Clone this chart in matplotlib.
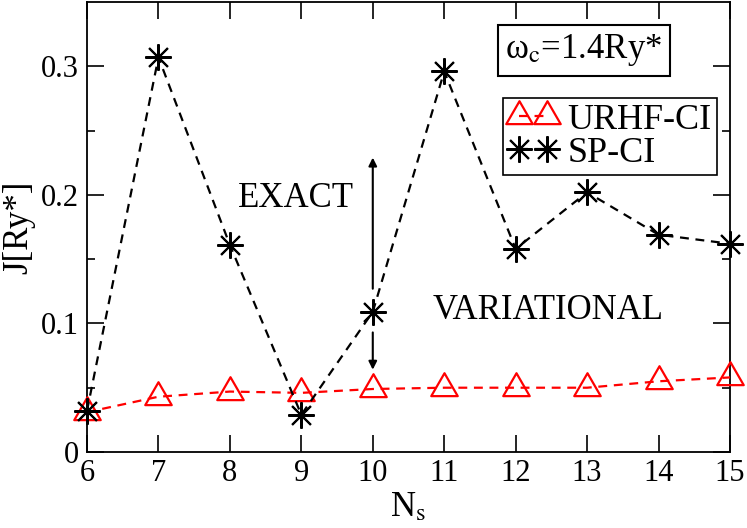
import matplotlib
matplotlib.use("Agg")
import matplotlib.pyplot as plt
from matplotlib.path import Path
import numpy as np

# Data
ns = [6, 7, 8, 9, 10, 11, 12, 13, 14, 15]
urhf_ci = [0.031, 0.043, 0.047, 0.046, 0.049, 0.050, 0.050, 0.050, 0.055, 0.058]
sp_ci = [0.032, 0.307, 0.161, 0.029, 0.109, 0.296, 0.158, 0.202, 0.169, 0.162]
xticks = [6, 7, 8, 9, 10, 11, 12, 13, 14, 15]
yticks = [0, 0.1, 0.2, 0.3]
ytick_labels = ["0", "0.1", "0.2", "0.3"]

plt.rcParams['font.family'] = ['Liberation Serif', 'DejaVu Serif']
plt.rcParams['mathtext.fontset'] = 'stix'

fig = plt.figure(figsize=(7.47, 5.28), dpi=100)
ax = fig.add_axes([87/747, 76/528, 643/747, 450/528])

tri = Path([(-1, -0.577), (1, -0.577), (0, 1.155), (-1, -0.577)],
           [Path.MOVETO, Path.LINETO, Path.LINETO, Path.CLOSEPOLY])
ast = (8, 2, 0)

ax.plot(ns, urhf_ci, linestyle=(0, (4, 3)), color='red', lw=1.6,
        marker=tri, markersize=22, markerfacecolor='none',
        markeredgecolor='red', markeredgewidth=1.6, clip_on=False,
        label='URHF-CI', zorder=3)
ax.plot(ns, sp_ci, linestyle=(0, (4, 3)), color='black', lw=1.6,
        marker=ast, markersize=19, markeredgecolor='black',
        markeredgewidth=1.5, clip_on=False, label='SP-CI', zorder=4)

ax.set_xlim(6, 15)
ax.set_ylim(0, 0.35)
ax.set_xticks(xticks)
ax.set_xticklabels([str(v) for v in xticks])
ax.set_yticks(yticks)
ax.set_yticklabels(ytick_labels)
ax.set_yticks(np.arange(0.05, 0.35, 0.1), minor=True)

ax.tick_params(axis='both', which='major', direction='in', length=12,
               width=1.2, labelsize=22, top=True, right=True, pad=6)
ax.tick_params(axis='y', which='minor', direction='in', length=6,
               width=1.2, right=True, left=True)
ax.tick_params(axis='x', which='major', pad=5)
for s in ax.spines.values():
    s.set_linewidth(1.3)

ax.set_xlabel(r'N$_{\mathrm{s}}$', fontsize=25, labelpad=2)
ax.set_ylabel('J[Ry*]', fontsize=25, labelpad=4)

ax.text(8.93, 0.197, 'EXACT', fontsize=25, ha='center', va='center')
ax.text(12.45, 0.110, 'VARIATIONAL', fontsize=25, ha='center', va='center')

ax.annotate('', xy=(10, 0.229), xytext=(10, 0.127),
            arrowprops=dict(arrowstyle='-|>', color='black', lw=1.5,
                            mutation_scale=12, shrinkA=0, shrinkB=0))
ax.annotate('', xy=(10, 0.064), xytext=(10, 0.093),
            arrowprops=dict(arrowstyle='-|>', color='black', lw=1.5,
                            mutation_scale=12, shrinkA=0, shrinkB=0))

ax.text(0.773, 0.893, 'ω$_{\\mathrm{c}}$=1.4Ry*', transform=ax.transAxes,
        fontsize=25, ha='center', va='center',
        bbox=dict(boxstyle='square,pad=0.22', facecolor='white',
                  edgecolor='black', lw=1.5))

leg = ax.legend(loc='upper right', bbox_to_anchor=(0.98, 0.787),
                borderaxespad=0, fontsize=26, numpoints=2, handlelength=1.37,
                handletextpad=0.28, borderpad=0.15, labelspacing=0.0,
                fancybox=False, framealpha=1, edgecolor='black')
leg.get_frame().set_linewidth(1.2)

fig.savefig('out.png', dpi=100)
